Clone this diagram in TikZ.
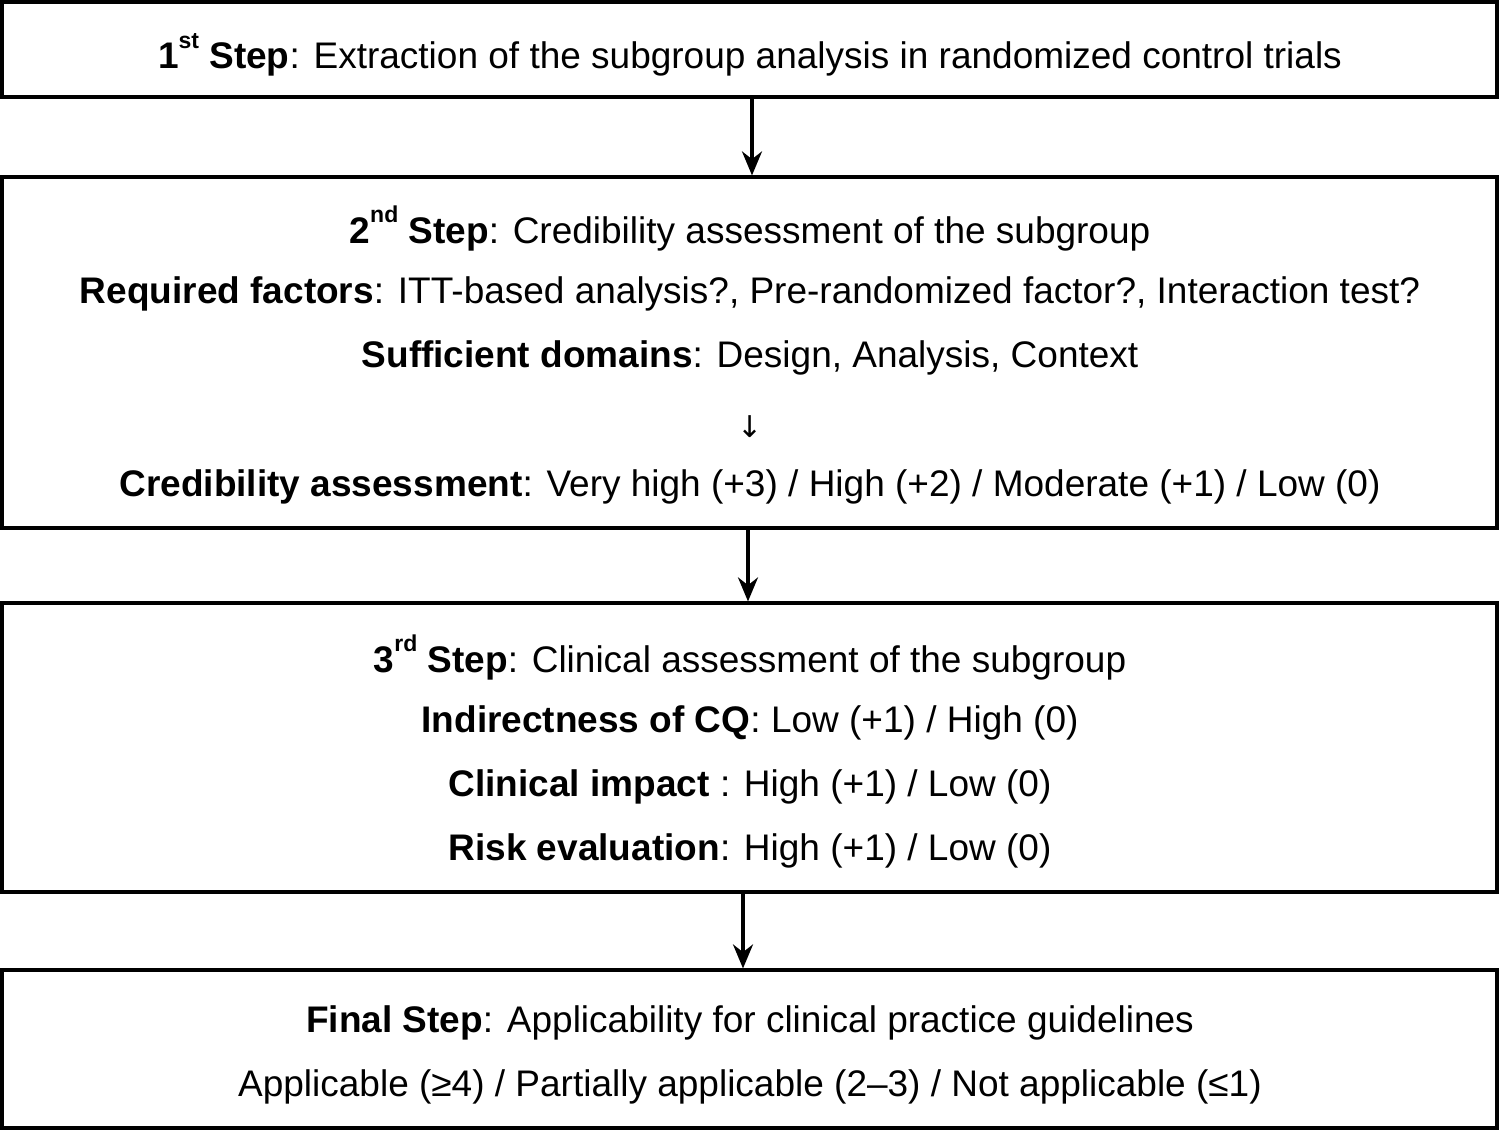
\documentclass[tikz,border=0pt]{standalone}
\usepackage{fontspec}
\setmainfont{Liberation Sans}
\newfontfamily\djv{DejaVu Sans}
\usetikzlibrary{arrows.meta}
\newcommand{\supr}[1]{\raisebox{0.55em}{\fontsize{23}{23}\selectfont #1}}
\begin{document}
\begin{tikzpicture}[x=1pt,y=-1pt,
  box/.style={draw,line width=3.2pt,minimum width=1495pt,inner sep=0pt},
  txt/.style={font=\fontsize{37}{42}\selectfont,inner sep=0pt,anchor=base},
  arr/.style={line width=3.2pt,-{Stealth[length=24pt,width=20pt]}}]
\useasboundingbox (0,0) rectangle (1500,1132);
\node[box,minimum height=95pt] (b1) at (749.5,49.5) {};
\node[box,minimum height=351pt] (b2) at (749.5,352.5) {};
\node[box,minimum height=289pt] (b3) at (749.5,747.5) {};
\node[box,minimum height=158pt] (b4) at (749.5,1049) {};
\draw[arr] ([xshift=2.5pt]b1.south) -- ([xshift=2.5pt]b2.north);
\draw[arr] ([xshift=-1.5pt]b2.south) -- ([xshift=-1.5pt]b3.north);
\draw[arr] ([xshift=-6.5pt]b3.south) -- ([xshift=-6.5pt]b4.north);
\node[txt] (t1) at (750,69) {\textbf{1\supr{st} Step}: Extraction of the subgroup analysis in randomized control trials};
\node[txt] (t2) at (750,243) {\textbf{2\supr{nd} Step}: Credibility assessment of the subgroup};
\node[txt] (t3) at (750,303) {\textbf{Required factors}: ITT-based analysis?, Pre-randomized factor?, Interaction test?};
\node[txt] (t4) at (750,367) {\textbf{Sufficient domains}: Design, Analysis, Context};
\node[txt] (t5) at (750,437) {\fontsize{30}{30}\selectfont\djv ↓};
\node[txt] (t6) at (750,496) {\textbf{Credibility assessment}: Very high (+3) / High (+2) / Moderate (+1) / Low (0)};
\node[txt] (t7) at (750,672) {\textbf{3\supr{rd} Step}: Clinical assessment of the subgroup};
\node[txt] (t8) at (750,732) {\textbf{Indirectness of CQ}: Low (+1) / High (0)};
\node[txt] (t9) at (750,796) {\textbf{Clinical impact} : High (+1) / Low (0)};
\node[txt] (t10) at (750,860) {\textbf{Risk evaluation}: High (+1) / Low (0)};
\node[txt] (t11) at (750,1032) {\textbf{Final Step}: Applicability for clinical practice guidelines};
\node[txt] (t12) at (750,1096) {Applicable (≥4) / Partially applicable (2–3) / Not applicable (≤1)};
\end{tikzpicture}
\end{document}
